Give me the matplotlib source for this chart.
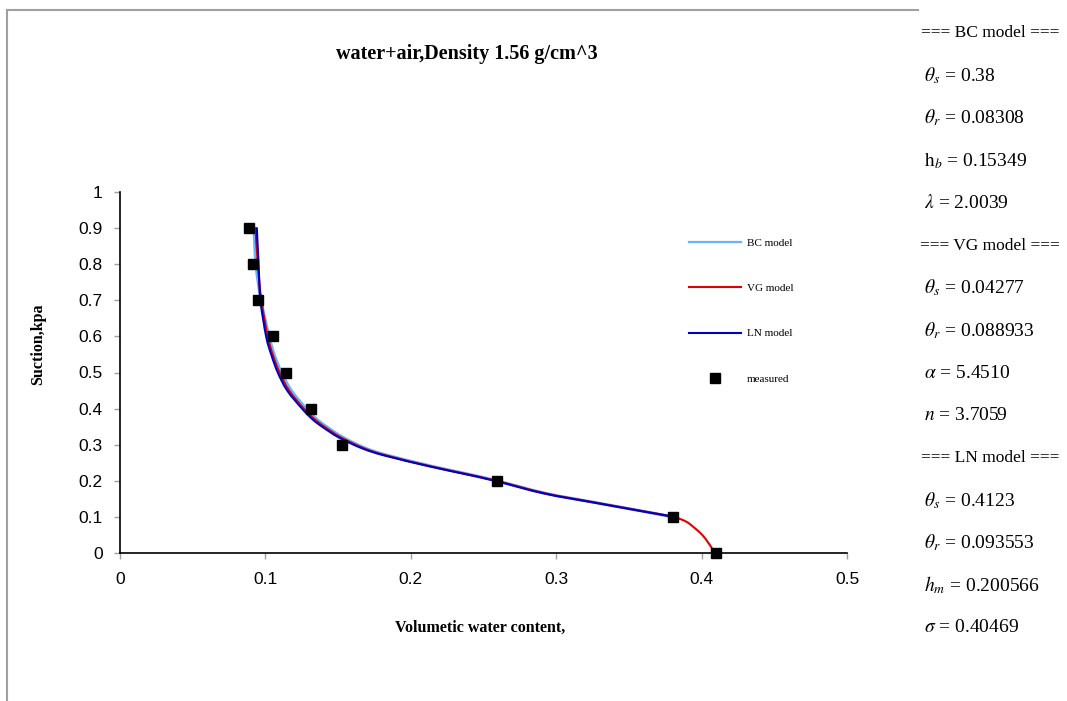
import matplotlib
matplotlib.use("Agg")
import matplotlib.pyplot as plt
from matplotlib.lines import Line2D
from matplotlib.path import Path
from matplotlib.patches import PathPatch

# ---------------- data ----------------
measured_theta = [0.0886, 0.0916, 0.0952, 0.1055, 0.1145, 0.1313, 0.1526, 0.2590, 0.3800, 0.4100]
measured_suction = [0.9, 0.8, 0.7, 0.6, 0.5, 0.4, 0.3, 0.2, 0.1, 0.0]

curve_suction = [0.9, 0.8, 0.7, 0.6, 0.55, 0.5, 0.45, 0.4, 0.37, 0.35, 0.32, 0.29,
                 0.27, 0.24, 0.22, 0.2, 0.165, 0.14, 0.115, 0.1]
bc_theta = [0.0922, 0.0935, 0.0970, 0.1025, 0.1060, 0.1110, 0.1178, 0.1280, 0.1355, 0.1420,
            0.1535, 0.1690, 0.1845, 0.2148, 0.2378, 0.2592, 0.2930, 0.3265, 0.3605, 0.3800]
ln_theta = [0.0941, 0.0953, 0.0966, 0.1005, 0.1040, 0.1085, 0.1150, 0.1252, 0.1325, 0.1390,
            0.1505, 0.1665, 0.1820, 0.2128, 0.2357, 0.2578, 0.2915, 0.3255, 0.3600, 0.3810]

vg_suction = [0.9, 0.8, 0.7, 0.6, 0.55, 0.5, 0.45, 0.4, 0.37, 0.35, 0.32, 0.29,
              0.27, 0.24, 0.22, 0.2, 0.165, 0.14, 0.115, 0.1, 0.087, 0.07, 0.05, 0.03, 0.015, 0.0]
vg_theta = [0.0932, 0.0948, 0.0972, 0.1016, 0.1050, 0.1097, 0.1163, 0.1264, 0.1340, 0.1405,
            0.1520, 0.1678, 0.1832, 0.2138, 0.2368, 0.2588, 0.2928, 0.3265, 0.3608, 0.3805,
            0.3893, 0.3950, 0.4005, 0.4043, 0.4068, 0.4090]

x_ticks = [0, 0.1, 0.2, 0.3, 0.4, 0.5]
x_ticklabels = ["0", "0.1", "0.2", "0.3", "0.4", "0.5"]
y_ticks = [0, 0.1, 0.2, 0.3, 0.4, 0.5, 0.6, 0.7, 0.8, 0.9, 1.0]
y_ticklabels = ["0", "0.1", "0.2", "0.3", "0.4", "0.5", "0.6", "0.7", "0.8", "0.9", "1"]

title_text = "water+air,Density 1.56 g/cm^3"
xlabel_text = "Volumetic water content,"
ylabel_text = "Suction,kpa"
series_names = ["BC model", "VG model", "LN model", "measured"]

param_lines = [
    "=== BC model ===",
    r"$\theta_s$ = 0.38",
    r"$\theta_r$ = 0.08308",
    r"$\mathrm{h}_b$ = 0.15349",
    r"$\lambda$ = 2.0039",
    "=== VG model ===",
    r"$\theta_s$ = 0.04277",
    r"$\theta_r$ = 0.088933",
    r"$\alpha$ = 5.4510",
    r"$n$ = 3.7059",
    "=== LN model ===",
    r"$\theta_s$ = 0.4123",
    r"$\theta_r$ = 0.093553",
    r"$h_m$ = 0.200566",
    r"$\sigma$ = 0.40469",
]

BC_COLOR = "#66b3ff"
VG_COLOR = "#e00000"
LN_COLOR = "#0000c0"


def smooth_line(ax, xs, ys, color, lw, z):
    """Smoothed line through the points (Catmull-Rom as cubic Bezier path)."""
    pts = list(zip(xs, ys))
    verts = [pts[0]]
    codes = [Path.MOVETO]
    n = len(pts)
    for i in range(n - 1):
        p0 = pts[i - 1] if i > 0 else pts[i]
        p1 = pts[i]
        p2 = pts[i + 1]
        p3 = pts[i + 2] if i + 2 < n else pts[i + 1]
        c1 = (p1[0] + (p2[0] - p0[0]) / 6, p1[1] + (p2[1] - p0[1]) / 6)
        c2 = (p2[0] - (p3[0] - p1[0]) / 6, p2[1] - (p3[1] - p1[1]) / 6)
        verts += [c1, c2, p2]
        codes += [Path.CURVE4] * 3
    patch = PathPatch(Path(verts, codes), fill=False, edgecolor=color, lw=lw,
                      zorder=z, capstyle="round", joinstyle="round")
    ax.add_patch(patch)


# ---------------- figure ----------------
plt.rcParams["mathtext.fontset"] = "stix"
W, H = 1067, 701
fig = plt.figure(figsize=(W / 100, H / 100), dpi=100)

ax = fig.add_axes([120 / W, 1 - 553 / H, (847 - 120) / W, (553 - 192) / H])

smooth_line(ax, bc_theta, curve_suction, BC_COLOR, 2.2, 2)
smooth_line(ax, vg_theta, vg_suction, VG_COLOR, 1.5, 3)
smooth_line(ax, ln_theta, curve_suction, LN_COLOR, 1.5, 4)
ax.plot(measured_theta, measured_suction, linestyle="none", marker="s", markersize=7.5,
        color="black", zorder=5, clip_on=False)

ax.set_xlim(0, 0.5)
ax.set_ylim(0, 1)
ax.set_xticks(x_ticks)
ax.set_xticklabels(x_ticklabels, fontsize=12.5, family="Liberation Sans")
ax.set_yticks(y_ticks)
ax.set_yticklabels(y_ticklabels, fontsize=12.5, family="Liberation Sans")
ax.tick_params(axis="both", direction="out", length=4.5, width=1, color="#a0a0a0")
ax.tick_params(axis="x", pad=9)
ax.tick_params(axis="y", pad=8)
for s in ["top", "right"]:
    ax.spines[s].set_visible(False)
for s in ["left", "bottom"]:
    ax.spines[s].set_color("black")
    ax.spines[s].set_linewidth(1.2)

handles = [
    Line2D([], [], color=BC_COLOR, lw=1.6),
    Line2D([], [], color=VG_COLOR, lw=1.5),
    Line2D([], [], color=LN_COLOR, lw=1.5),
    Line2D([], [], color="black", linestyle="none", marker="s", markersize=7.5),
]
leg = ax.legend(handles, series_names, loc="upper left",
                bbox_to_anchor=(689 / W, 1 - 238 / H),
                bbox_transform=fig.transFigure, frameon=False,
                prop={"family": "Liberation Serif", "size": 8},
                labelspacing=3.2, handlelength=4.7, handletextpad=0.5, borderpad=0,
                borderaxespad=0)

fig.text(467 / W, 1 - 54 / H, title_text, ha="center", va="center",
         fontsize=14.5, fontweight="bold", family="Liberation Serif")
fig.text(480 / W, 1 - 628 / H, xlabel_text, ha="center", va="center",
         fontsize=11.5, fontweight="bold", family="Liberation Serif")
fig.text(38 / W, 1 - 344 / H, ylabel_text, ha="center", va="center", rotation=90,
         fontsize=11.5, fontweight="bold", family="Liberation Serif")

# outer chart frame (top and left borders)
fig.add_artist(Line2D([7 / W, 7 / W], [0, 1 - 10 / H], transform=fig.transFigure,
                      color="#a0a0a0", lw=1.5))
fig.add_artist(Line2D([7 / W, 918 / W], [1 - 10 / H, 1 - 10 / H], transform=fig.transFigure,
                      color="#a0a0a0", lw=1.5))

# parameter panel
for i, txt in enumerate(param_lines):
    y = 33 + i * 42.5
    if txt.startswith("==="):
        fig.text(990 / W, 1 - y / H, txt, ha="center", va="center",
                 fontsize=12.5, family="Liberation Serif")
    else:
        fig.text(924 / W, 1 - y / H, txt, ha="left", va="center",
                 fontsize=14, family="Liberation Serif")

fig.savefig("out.png", dpi=100)
